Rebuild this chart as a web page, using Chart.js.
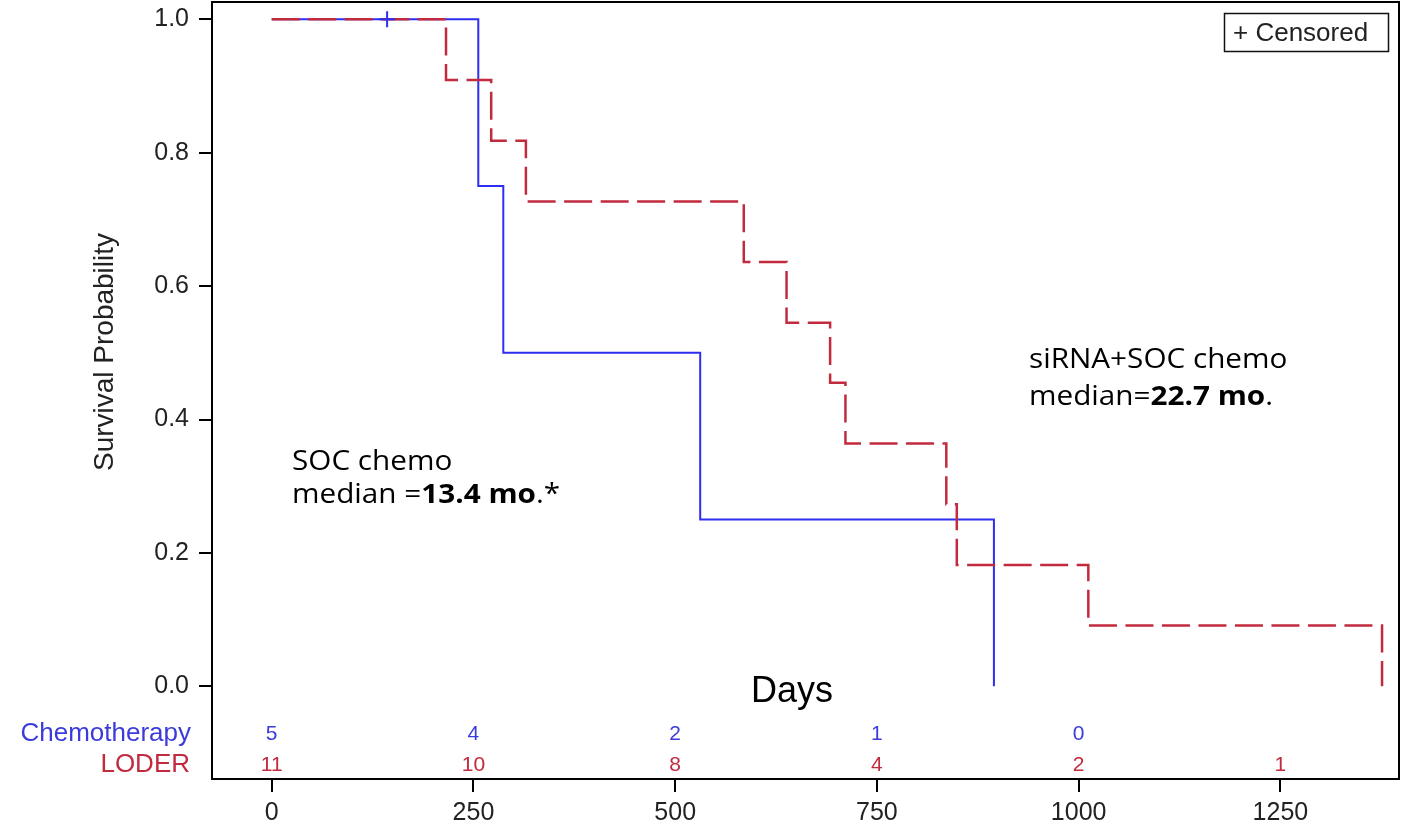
<!DOCTYPE html>
<html>
<head>
<meta charset="utf-8">
<script src="https://cdn.jsdelivr.net/npm/chart.js@4.4.1/dist/chart.umd.min.js"></script>
<style>
  html, body { margin: 0; padding: 0; background: #fff; }
  canvas { display: block; }
</style>
</head>
<body>
<canvas id="kmChart" width="1402" height="829"></canvas>
<script>
// Kaplan-Meier data (days, survival probability)
const chemoDays = [0, 256, 287, 531, 895];
const chemoSurv = [1.0, 0.75, 0.5, 0.25, 0.0];

const loderDays = [0, 216, 272, 315, 585, 638, 692, 711, 836, 849, 1012, 1376];
const loderSurv = [1.0, 0.909, 0.818, 0.727, 0.636, 0.545, 0.455, 0.364, 0.273, 0.182, 0.091, 0.0];

const censorDays = [143];
const censorSurv = [1.0];

const xTicks = [0, 250, 500, 750, 1000, 1250];
const yTicks = [0.0, 0.2, 0.4, 0.6, 0.8, 1.0];

// number at risk table
const riskDays = [0, 250, 500, 750, 1000, 1250];
const chemoAtRisk = [5, 4, 2, 1, 0];
const loderAtRisk = [11, 10, 8, 4, 2, 1];

const BLUE = '#2e2ef2';
const BLUE_TXT = '#3b3bdc';
const RED = '#c22a3e';
const SAS_FONT = '"Liberation Sans", Arial, sans-serif';
const NOTE_FONT = '"Open Sans", "Noto Sans", sans-serif';

function toPoints(xs, ys) {
    return xs.map((x, i) => ({ x: x, y: ys[i] }));
}

// draw a line made of regular/bold pieces, stretched horizontally a bit
function drawRuns(ctx, runs, x, y, size, sx) {
    ctx.save();
    ctx.translate(x, y);
    ctx.scale(sx, 1);
    let cx = 0;
    runs.forEach(r => {
        ctx.font = (r.bold ? 'bold ' : '') + size + 'px ' + NOTE_FONT;
        ctx.fillText(r.text, cx, 0);
        cx += ctx.measureText(r.text).width;
    });
    ctx.restore();
}

const extrasPlugin = {
    id: 'kmExtras',
    afterDraw(chart) {
        const ctx = chart.ctx;
        const area = chart.chartArea;
        const xs = chart.scales.x;

        ctx.save();
        // frame around plot
        ctx.strokeStyle = '#000';
        ctx.lineWidth = 2;
        ctx.strokeRect(area.left, area.top, area.right - area.left, area.bottom - area.top);

        // y axis title
        ctx.save();
        ctx.translate(105, 352);
        ctx.rotate(-Math.PI / 2);
        ctx.fillStyle = '#222';
        ctx.font = '28px ' + SAS_FONT;
        ctx.textAlign = 'center';
        ctx.textBaseline = 'middle';
        ctx.fillText('Survival Probability', 0, 0);
        ctx.restore();

        // censored legend box
        ctx.lineWidth = 1.5;
        ctx.strokeStyle = '#111';
        ctx.strokeRect(1224.5, 13.5, 164, 38);
        ctx.fillStyle = '#222';
        ctx.font = '26px ' + SAS_FONT;
        ctx.textAlign = 'left';
        ctx.textBaseline = 'alphabetic';
        ctx.fillText('+ Censored', 1233, 41);

        // number at risk
        ctx.textAlign = 'right';
        ctx.font = '26px ' + SAS_FONT;
        ctx.fillStyle = BLUE_TXT;
        ctx.fillText('Chemotherapy', 191, 741);
        ctx.fillStyle = RED;
        ctx.fillText('LODER', 190, 772);

        ctx.textAlign = 'center';
        ctx.font = '21px ' + SAS_FONT;
        chemoAtRisk.forEach((n, i) => {
            ctx.fillStyle = BLUE_TXT;
            ctx.fillText(String(n), xs.getPixelForValue(riskDays[i]), 740);
        });
        loderAtRisk.forEach((n, i) => {
            ctx.fillStyle = RED;
            ctx.fillText(String(n), xs.getPixelForValue(riskDays[i]), 771);
        });

        // x axis title sits inside the plot
        ctx.fillStyle = '#000';
        ctx.font = '36px ' + SAS_FONT;
        ctx.fillText('Days', 792, 702);

        // median annotations
        ctx.textAlign = 'left';
        ctx.fillStyle = '#000';
        drawRuns(ctx, [{ text: 'SOC chemo' }], 292, 470, 27, 1.1);
        drawRuns(ctx, [{ text: 'median =' }, { text: '13.4 mo', bold: true }, { text: '.*' }], 292, 503, 27, 1.1);
        drawRuns(ctx, [{ text: 'siRNA+SOC chemo' }], 1029, 368, 27, 1.1);
        drawRuns(ctx, [{ text: 'median=' }, { text: '22.7 mo', bold: true }, { text: '.' }], 1029, 405, 27, 1.1);
        ctx.restore();
    }
};

new Chart(document.getElementById('kmChart'), {
    type: 'line',
    data: {
        datasets: [
            {
                label: 'Censored',
                data: toPoints(censorDays, censorSurv),
                showLine: false,
                pointStyle: 'cross',
                pointRadius: 8,
                pointBorderWidth: 2,
                pointBorderColor: BLUE,
                borderColor: BLUE,
            },
            {
                label: 'LODER',
                data: toPoints(loderDays, loderSurv),
                stepped: true,
                borderColor: RED,
                borderWidth: 2.5,
                borderDash: [28, 8.5],
                pointRadius: 0,
                fill: false,
            },
            {
                label: 'Chemotherapy',
                data: toPoints(chemoDays, chemoSurv),
                stepped: true,
                borderColor: BLUE,
                borderWidth: 2,
                pointRadius: 0,
                fill: false,
            }
        ]
    },
    options: {
        responsive: false,
        animation: false,
        layout: { autoPadding: false, padding: { left: 0, top: 2, right: 3, bottom: 0 } },
        plugins: {
            legend: { display: false },
            tooltip: { enabled: false }
        },
        scales: {
            x: {
                type: 'linear',
                min: -74,
                max: 1397,
                afterBuildTicks: function(scale) {
                    scale.ticks = xTicks.map(v => ({ value: v }));
                },
                afterFit: function(scale) {
                    scale.height = 50;
                    scale.paddingLeft = 0;
                    scale.paddingRight = 0;
                },
                ticks: {
                    autoSkip: false,
                    maxRotation: 0,
                    padding: 6,
                    color: '#222',
                    font: { family: SAS_FONT, size: 25 },
                    callback: function(value) { return String(value); }
                },
                grid: { drawOnChartArea: false, drawTicks: true, tickLength: 13, color: '#000', lineWidth: 2 },
                border: { display: true, color: '#000', width: 2 }
            },
            y: {
                min: -0.139,
                max: 1.026,
                afterBuildTicks: function(scale) {
                    scale.ticks = yTicks.map(v => ({ value: v }));
                },
                afterFit: function(scale) {
                    scale.width = 212;
                    scale.paddingTop = 0;
                    scale.paddingBottom = 0;
                },
                ticks: {
                    autoSkip: false,
                    padding: 10,
                    color: '#222',
                    font: { family: SAS_FONT, size: 25 },
                    callback: function(value) { return value.toFixed(1); }
                },
                grid: { drawOnChartArea: false, drawTicks: true, tickLength: 13, color: '#000', lineWidth: 2 },
                border: { display: true, color: '#000', width: 2 }
            }
        }
    },
    plugins: [extrasPlugin]
});
</script>
</body>
</html>
